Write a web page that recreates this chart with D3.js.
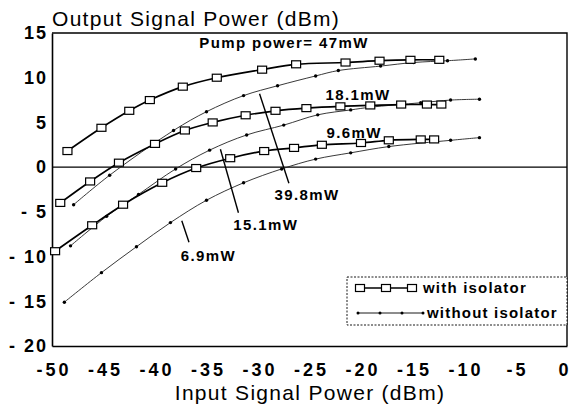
<!DOCTYPE html>
<html>
<head>
<meta charset="utf-8">
<script src="https://cdn.jsdelivr.net/npm/d3@7/dist/d3.min.js"></script>
<style>
  body { margin: 0; background: #fff; }
  svg { display: block; font-family: "Liberation Sans", Arial, sans-serif; }
</style>
</head>
<body>
<svg id="chart" width="569" height="411"></svg>
<script>
// axis ticks
const xTicks = [-50, -45, -40, -35, -30, -25, -20, -15, -10, -5, 0];
const yTicks = [-20, -15, -10, -5, 0, 5, 10, 15];

// with isolator (squares), pump 47 mW
const iso47In  = [-48.5, -45.2, -42.5, -40.5, -37.3, -34.0, -29.6, -26.3, -21.5, -18.2, -15.2, -12.4];
const iso47Out = [1.8, 4.4, 6.3, 7.5, 9.0, 10.0, 10.9, 11.5, 11.7, 11.9, 12.0, 12.0];
// with isolator, pump 18.1 mW
const iso18In  = [-49.2, -46.3, -43.5, -40.0, -37.1, -34.4, -31.2, -28.3, -25.3, -22.0, -19.1, -16.1, -13.6, -12.2];
const iso18Out = [-4.0, -1.6, 0.5, 2.6, 4.1, 5.0, 5.8, 6.3, 6.6, 6.8, 6.9, 7.0, 7.0, 7.0];
// with isolator, pump 9.6 mW
const iso96In  = [-49.7, -46.1, -43.1, -39.3, -36.0, -32.7, -29.4, -26.5, -23.8, -20.0, -17.3, -14.2, -12.9];
const iso96Out = [-9.4, -6.5, -4.2, -1.75, -0.1, 1.0, 1.8, 2.15, 2.5, 2.7, 3.0, 3.1, 3.1];

// without isolator (dots), pump 39.8 mW
const noIso398In  = [-47.9, -44.4, -38.2, -35.0, -31.4, -28.1, -24.4, -22.2, -18.1, -14.9, -11.6, -8.9];
const noIso398Out = [-4.2, -0.9, 4.1, 6.2, 8.0, 9.1, 10.2, 10.8, 11.3, 11.7, 11.9, 12.1];
// without isolator, pump 15.1 mW
const noIso151In  = [-48.2, -44.7, -41.6, -38.0, -34.7, -31.1, -27.5, -24.2, -21.0, -19.1, -14.2, -11.3, -8.5];
const noIso151Out = [-8.8, -5.5, -3.05, -0.2, 1.9, 3.6, 4.7, 5.85, 6.4, 6.7, 7.2, 7.5, 7.6];
// without isolator, pump 6.9 mW
const noIso69In  = [-48.8, -45.2, -41.8, -38.5, -35.0, -31.4, -27.7, -24.4, -21.0, -17.3, -11.3, -8.5];
const noIso69Out = [-15.1, -11.8, -8.9, -6.2, -3.7, -1.75, -0.2, 0.9, 1.6, 2.3, 3.0, 3.3];

const zip = (xs, ys) => xs.map((v, i) => [v, ys[i]]);

const withIso = [zip(iso47In, iso47Out), zip(iso18In, iso18Out), zip(iso96In, iso96Out)];
const withoutIso = [zip(noIso398In, noIso398Out), zip(noIso151In, noIso151Out), zip(noIso69In, noIso69Out)];

const svg = d3.select('#chart');
const margin = {top: 33, right: 2, bottom: 65, left: 52};
const width = 569 - margin.left - margin.right;
const height = 411 - margin.top - margin.bottom;

const x = d3.scaleLinear().domain([-50, 0]).range([margin.left, margin.left + width]);
const y = d3.scaleLinear().domain([-20, 15]).range([margin.top + height, margin.top]);

const tickFont = '"Liberation Sans", Arial, sans-serif';

// x axis
const xAxis = svg.append('g')
  .attr('transform', `translate(0, ${margin.top + height})`)
  .call(d3.axisBottom(x).tickValues(xTicks).tickSize(0).tickPadding(17)
    .tickFormat(d => (d < 0 ? '-' + Math.abs(d) : String(d))));
xAxis.select('.domain').attr('stroke', '#000').attr('stroke-width', 1.6);
xAxis.selectAll('text')
  .attr('fill', '#000')
  .attr('dx', '1.5px')
  .style('font-size', '18px')
  .style('font-weight', 'bold')
  .style('letter-spacing', '3px')
  .style('font-family', tickFont);
// last label sits on the right edge
xAxis.selectAll('.tick').filter(d => d === 0).select('text')
  .attr('text-anchor', 'end').attr('dx', '1px').style('letter-spacing', '0px');

// y axis
const yAxis = svg.append('g')
  .attr('transform', `translate(${margin.left}, 0)`)
  .call(d3.axisLeft(y).tickValues(yTicks).tickSize(0).tickPadding(4)
    .tickFormat(d => (d < 0 ? '- ' + Math.abs(d) : String(d))));
yAxis.select('.domain').attr('stroke', '#000').attr('stroke-width', 1.6);
yAxis.selectAll('text')
  .attr('fill', '#000')
  .style('font-size', '18px')
  .style('font-weight', 'bold')
  .style('letter-spacing', '2px')
  .style('font-family', tickFont);

// frame top & right
svg.append('path')
  .attr('d', `M${x(-50)},${y(15)}H${x(0)}V${y(-20)}`)
  .attr('fill', 'none').attr('stroke', '#000').attr('stroke-width', 1.4);

// zero line
svg.append('line')
  .attr('x1', x(-50)).attr('x2', x(0))
  .attr('y1', y(0)).attr('y2', y(0))
  .attr('stroke', '#000').attr('stroke-width', 1.1);

const line = d3.line()
  .x(d => x(d[0]))
  .y(d => y(d[1]))
  .curve(d3.curveCatmullRom.alpha(0.5));

// without isolator curves
withoutIso.forEach(s => {
  svg.append('path').datum(s)
    .attr('d', line)
    .attr('fill', 'none')
    .attr('stroke', '#222')
    .attr('stroke-width', 0.9);
  svg.selectAll(null).data(s).enter().append('circle')
    .attr('cx', d => x(d[0]))
    .attr('cy', d => y(d[1]))
    .attr('r', 1.7)
    .attr('fill', '#000');
});

// with isolator curves
withIso.forEach(s => {
  svg.append('path').datum(s)
    .attr('d', line)
    .attr('fill', 'none')
    .attr('stroke', '#000')
    .attr('stroke-width', 1.7);
  svg.selectAll(null).data(s).enter().append('rect')
    .attr('x', d => x(d[0]) - 4.5)
    .attr('y', d => y(d[1]) - 3.5)
    .attr('width', 9)
    .attr('height', 7)
    .attr('fill', '#fff')
    .attr('stroke', '#000')
    .attr('stroke-width', 1.2);
});

// annotations
const annot = svg.append('g')
  .style('font-size', '15px')
  .style('font-weight', 'bold')
  .style('letter-spacing', '1.4px')
  .attr('fill', '#000');
annot.append('text').attr('x', x(-35.7)).attr('y', y(13.3)).text('Pump power= 47mW');
annot.append('text').attr('x', x(-23.45)).attr('y', y(7.5)).text('18.1mW');
annot.append('text').attr('x', x(-23.35)).attr('y', y(3.3)).text('9.6mW');
annot.append('text').attr('x', x(-28.4)).attr('y', y(-3.7)).text('39.8mW');
annot.append('text').attr('x', x(-32.4)).attr('y', y(-7.0)).text('15.1mW');
annot.append('text').attr('x', x(-37.5)).attr('y', y(-10.5)).text('6.9mW');

const pointers = [
  [[-29.85, 8.2], [-27.0, -1.8]],
  [[-33.65, 2.0], [-31.9, -5.1]],
  [[-37.4, -6.0], [-36.7, -8.4]]
];
pointers.forEach(p => {
  svg.append('line')
    .attr('x1', x(p[0][0])).attr('y1', y(p[0][1]))
    .attr('x2', x(p[1][0])).attr('y2', y(p[1][1]))
    .attr('stroke', '#000').attr('stroke-width', 1.4);
});

// legend
const lg = svg.append('g').attr('transform', 'translate(347, 277)');
lg.append('rect')
  .attr('width', 220).attr('height', 48)
  .attr('fill', '#fff')
  .attr('stroke', '#000').attr('stroke-width', 0.9)
  .attr('stroke-dasharray', '2,1.5');
lg.append('line').attr('x1', 13).attr('x2', 65).attr('y1', 11).attr('y2', 11)
  .attr('stroke', '#000').attr('stroke-width', 1.5);
[13, 39, 65].forEach(cx => {
  lg.append('rect').attr('x', cx - 4.5).attr('y', 7.5).attr('width', 9).attr('height', 7)
    .attr('fill', '#fff').attr('stroke', '#000').attr('stroke-width', 1.2);
});
lg.append('line').attr('x1', 11).attr('x2', 76).attr('y1', 36).attr('y2', 36)
  .attr('stroke', '#000').attr('stroke-width', 0.9);
[11, 33, 55, 76].forEach(cx => {
  lg.append('circle').attr('cx', cx).attr('cy', 36).attr('r', 1.5).attr('fill', '#000');
});
const lgText = lg.append('g')
  .style('font-size', '15px')
  .style('font-weight', 'bold')
  .style('letter-spacing', '1.2px');
lgText.append('text').attr('x', 76).attr('y', 16).text('with isolator');
lgText.append('text').attr('x', 80).attr('y', 41).text('without isolator');

// axis titles
svg.append('text')
  .attr('x', 52).attr('y', 26)
  .style('font-size', '21px')
  .style('letter-spacing', '1.3px')
  .text('Output Signal Power (dBm)');
svg.append('text')
  .attr('x', 310).attr('y', 400)
  .attr('text-anchor', 'middle')
  .style('font-size', '21px')
  .style('letter-spacing', '1.3px')
  .text('Input Signal Power (dBm)');
</script>
</body>
</html>
